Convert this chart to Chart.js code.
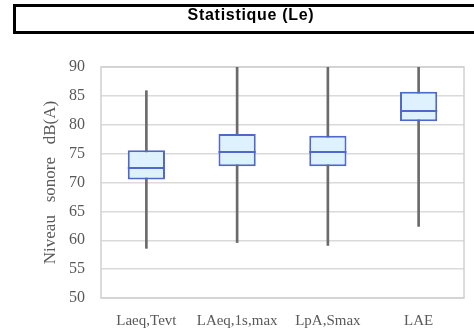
<!DOCTYPE html>
<html>
<head>
<meta charset="utf-8">
<script src="https://cdn.jsdelivr.net/npm/chart.js@4/dist/chart.umd.min.js"></script>
<style>
  html, body { margin: 0; padding: 0; background: #ffffff; }
  #wrap { width: 474px; height: 332px; }
</style>
</head>
<body>
<div id="wrap"><canvas id="c" width="474" height="332"></canvas></div>
<script>
// Box-plot statistics per indicator, dB(A)
const categories   = ['Laeq,Tevt', 'LAeq,1s,max', 'LpA,Smax', 'LAE'];
const minValues    = [58.6, 59.6, 59.1, 62.4];
const q1Values     = [70.5, 72.8, 72.8, 80.6];
const medianValues = [72.5, 75.3, 75.3, 82.4];
const q3Values     = [75.6, 78.4, 78.1, 85.7];
const maxValues    = [85.9, 90, 90, 90];
const yTickValues  = [50, 55, 60, 65, 70, 75, 80, 85, 90];
const chartTitle   = 'Statistique (Le)';
const yAxisTitle   = 'Niveau   sonore   dB(A)';

const SERIF = '"Liberation Serif", "Times New Roman", serif';
const SANS = '"Liberation Sans", Arial, sans-serif';
const TEXT_GREY = '#595959';
const BOX_BORDER = '#5068cc';

// Framed title banner at the top of the canvas
const titleBanner = {
  id: 'titleBanner',
  afterDraw(chart) {
    const ctx = chart.ctx;
    ctx.save();
    ctx.strokeStyle = '#000000';
    ctx.lineWidth = 3;
    ctx.strokeRect(14.5, 5.5, 480, 27);
    ctx.fillStyle = '#000000';
    ctx.font = 'bold 16px ' + SANS;
    if ('letterSpacing' in ctx) ctx.letterSpacing = '0.7px';
    ctx.textAlign = 'center';
    ctx.textBaseline = 'alphabetic';
    ctx.fillText(chartTitle, 251, 20);
    ctx.restore();
  }
};

// Grey frame around the plotting area
const plotFrame = {
  id: 'plotFrame',
  beforeDatasetsDraw(chart) {
    const a = chart.chartArea;
    const ctx = chart.ctx;
    ctx.save();
    ctx.strokeStyle = '#d0d0d0';
    ctx.lineWidth = 1.5;
    ctx.strokeRect(a.left, a.top, a.right - a.left, a.bottom - a.top);
    ctx.restore();
  }
};

// Median line across each box
const medianLines = {
  id: 'medianLines',
  afterDatasetsDraw(chart) {
    const meta = chart.getDatasetMeta(1);
    const yScale = chart.scales.y;
    const ctx = chart.ctx;
    ctx.save();
    ctx.strokeStyle = BOX_BORDER;
    ctx.lineWidth = 2;
    ctx.beginPath();
    meta.data.forEach((bar, i) => {
      const py = yScale.getPixelForValue(medianValues[i]);
      ctx.moveTo(bar.x - bar.width / 2, py);
      ctx.lineTo(bar.x + bar.width / 2, py);
    });
    ctx.stroke();
    ctx.restore();
  }
};

new Chart(document.getElementById('c'), {
  type: 'bar',
  data: {
    labels: categories,
    datasets: [
      {
        label: 'min-max',
        data: categories.map((_, i) => [minValues[i], maxValues[i]]),
        backgroundColor: '#6b6b6b',
        barThickness: 2,
        grouped: false,
        order: 2
      },
      {
        label: 'Q1-Q3',
        data: categories.map((_, i) => [q1Values[i], q3Values[i]]),
        backgroundColor: '#ddf2fc',
        borderColor: BOX_BORDER,
        borderWidth: 2,
        borderSkipped: false,
        barPercentage: 0.41,
        categoryPercentage: 1,
        grouped: false,
        order: 1
      }
    ]
  },
  options: {
    responsive: false,
    animation: false,
    layout: { padding: { left: 0, right: 10, top: 67, bottom: 0 } },
    plugins: {
      legend: { display: false },
      tooltip: { enabled: false },
      title: { display: false }
    },
    scales: {
      x: {
        grid: { display: false },
        border: { display: false },
        ticks: {
          color: TEXT_GREY,
          font: { family: SERIF, size: 15 },
          padding: 6,
          maxRotation: 0
        },
        afterFit(scale) { scale.height = 34; }
      },
      y: {
        min: 50,
        max: 90,
        afterBuildTicks(scale) {
          scale.ticks = yTickValues.map(v => ({ value: v }));
        },
        grid: { color: '#dadada', lineWidth: 1.5, drawTicks: false },
        border: { display: false },
        ticks: {
          color: TEXT_GREY,
          font: { family: SERIF, size: 16 },
          padding: 16
        },
        title: {
          display: true,
          text: yAxisTitle,
          color: TEXT_GREY,
          font: { family: SERIF, size: 17, weight: 'normal' },
          padding: { top: 40, bottom: 0 }
        },
        afterFit(scale) { scale.width = 101; }
      }
    }
  },
  plugins: [titleBanner, plotFrame, medianLines]
});
</script>
</body>
</html>
